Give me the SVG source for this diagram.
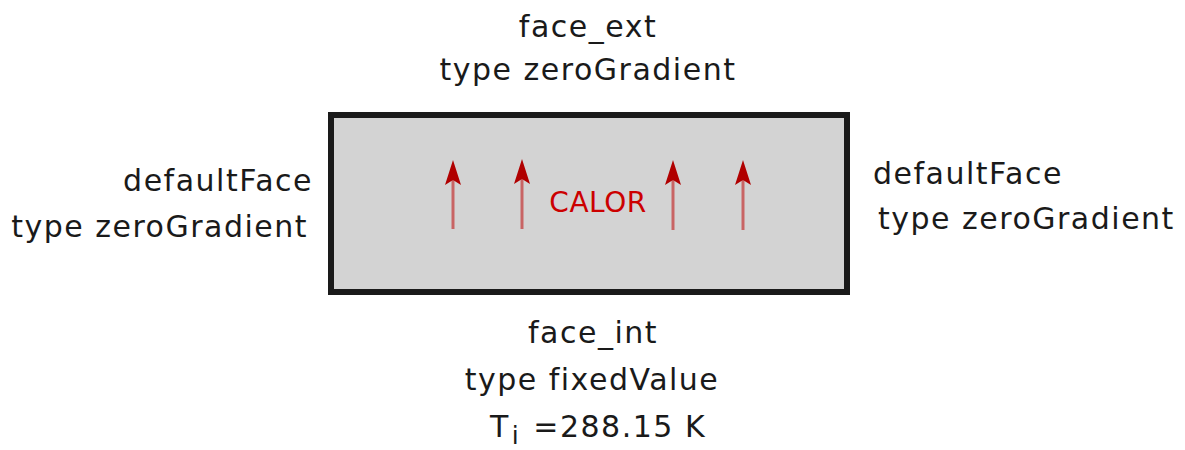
<svg xmlns="http://www.w3.org/2000/svg" width="1185" height="450" viewBox="0 0 1185 450">
<style>
.t{font-family:"DejaVu Sans",Verdana,sans-serif;font-size:30px;letter-spacing:1.5px;fill:#1a1a1a}
.c{text-anchor:middle}
.r{text-anchor:end}
.calor{font-family:"DejaVu Sans",Verdana,sans-serif;font-size:28px;letter-spacing:0.5px;fill:#cc0000;text-anchor:middle}
.shaft{stroke:#c86464;stroke-width:3}
.head{fill:#b00000}
</style>
<defs>
<path id="ah" d="M0,0 L8,25 L0,20 L-8,25 Z"/>
</defs>
<rect width="1185" height="450" fill="#fff"/>
<g id="block">
<rect x="331" y="115" width="516" height="177" fill="#d3d3d3" stroke="#1a1a1a" stroke-width="6"/>
<text class="calor" x="598" y="212">CALOR</text>
</g>
<g id="connectors">
<g><line class="shaft" x1="453" y1="178" x2="453" y2="229"/><use href="#ah" class="head" x="453" y="160"/></g>
<g><line class="shaft" x1="522" y1="178" x2="522" y2="229"/><use href="#ah" class="head" x="522" y="159"/></g>
<g><line class="shaft" x1="673" y1="178" x2="673" y2="230"/><use href="#ah" class="head" x="673" y="160"/></g>
<g><line class="shaft" x1="743" y1="178" x2="743" y2="230"/><use href="#ah" class="head" x="743" y="160"/></g>
</g>
<g id="top">
<text class="t c" x="588" y="37">face_ext</text>
<text class="t c" x="588" y="80">type zeroGradient</text>
</g>
<g id="left">
<text class="t r" x="313" y="191">defaultFace</text>
<text class="t r" x="308" y="237">type zeroGradient</text>
</g>
<g id="right">
<text class="t" x="873" y="184">defaultFace</text>
<text class="t" x="878" y="229">type zeroGradient</text>
</g>
<g id="bottom">
<text class="t c" x="593" y="343">face_int</text>
<text class="t c" x="592" y="390">type fixedValue</text>
<text class="t c" x="598" y="437">T<tspan dx="2" dy="7" font-size="25">i</tspan><tspan dx="2" dy="-7"> =288.15 K</tspan></text>
</g>
</svg>
